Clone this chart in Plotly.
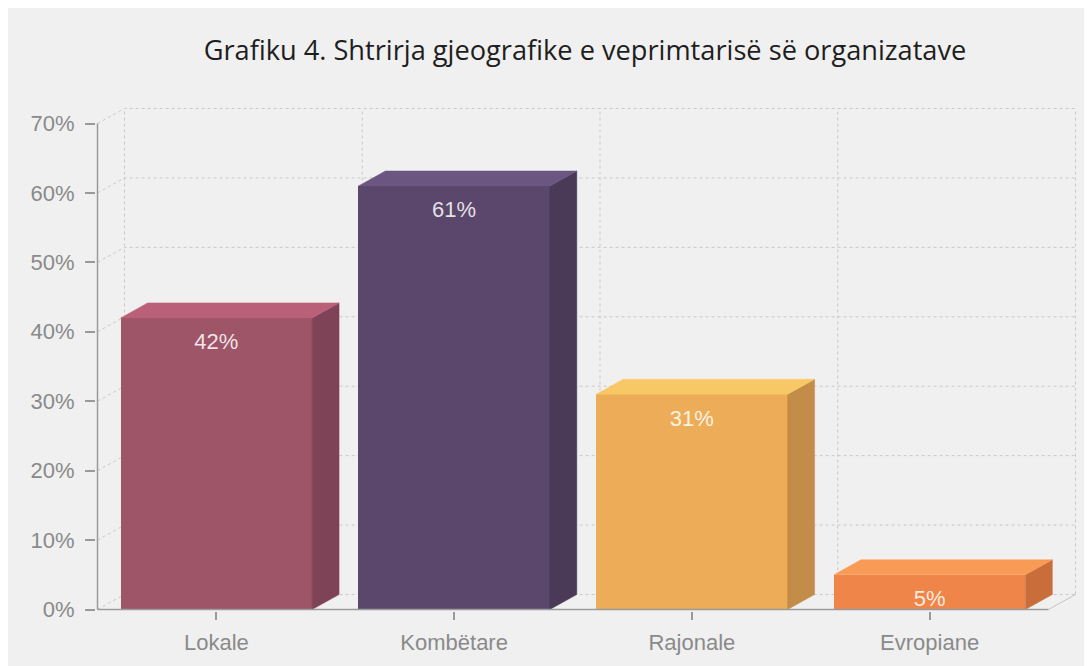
import plotly.graph_objects as go

# ---- data ----
categories = ["Lokale", "Kombëtare", "Rajonale", "Evropiane"]
values = [42, 61, 31, 5]
value_labels = ["42%", "61%", "31%", "5%"]
y_ticks = [0, 10, 20, 30, 40, 50, 60, 70]
y_tick_labels = ["0%", "10%", "20%", "30%", "40%", "50%", "60%", "70%"]
title_text = "Grafiku 4. Shtrirja gjeografike e veprimtarisë së organizatave"

front_colors = ["#9e5568", "#5b476b", "#edad58", "#ef8549"]
side_colors = ["#7e4356", "#4a3a58", "#c38d49", "#c96e3b"]
top_colors = ["#ba6079", "#6b5682", "#f8c866", "#f89b57"]

# ---- geometry (pixel scale) ----
OFF = 8             # page body margin
W, H = 1092 - OFF, 666 - OFF
sx = 238.0          # px per category
sy = 6.943          # px per percent
depth_px_x, depth_px_y = 27.0, 15.0
ddx = depth_px_x / sx
ddy = depth_px_y / sy
ymax = 70
bar_w = 0.805
pad = 1.5

x0, x1 = -0.5 - pad / sx, len(categories) - 0.5 + ddx + pad / sx
y0, y1 = -pad / sy, ymax + ddy + pad / sy
left_px = 97 - OFF - pad
right_px = left_px + (x1 - x0) * sx
bottom_px = 610 - OFF + pad
top_px = bottom_px - (y1 - y0) * sy

fig = go.Figure()

grid_style = dict(color="#c9c9c9", width=1, dash="3px,3px")

# ---- back grid (base subplot, drawn underneath) ----
xl, xr = -0.5, len(categories) - 0.5
for v in y_ticks:
    fig.add_trace(go.Scatter(x=[xl, xl + ddx, xr + ddx], y=[v, v + ddy, v + ddy],
                             mode="lines", line=grid_style, hoverinfo="skip", showlegend=False))
for k in range(len(categories) + 1):
    xv = xl + k + ddx
    fig.add_trace(go.Scatter(x=[xv, xv], y=[ddy, ymax + ddy], mode="lines",
                             line=grid_style, hoverinfo="skip", showlegend=False))
fig.add_trace(go.Scatter(x=[xr, xr + ddx], y=[0, ddy], mode="lines",
                         line=dict(color="#c4c4c4", width=1), hoverinfo="skip", showlegend=False))

# ---- bars (overlay subplot, drawn above grid) ----
xs = list(range(len(categories)))
fig.add_trace(go.Bar(x=xs, y=values, width=bar_w, xaxis="x2", yaxis="y2",
                     marker=dict(color=front_colors, line=dict(width=0)),
                     hoverinfo="skip", showlegend=False))

for i, v in enumerate(values):
    a, b = i - bar_w / 2, i + bar_w / 2
    fig.add_trace(go.Scatter(x=[b, b + ddx, b + ddx, b, b], y=[0, ddy, v + ddy, v, 0],
                             xaxis="x2", yaxis="y2",
                             fill="toself", fillcolor=side_colors[i], mode="lines",
                             line=dict(color=side_colors[i], width=0.5),
                             hoverinfo="skip", showlegend=False))
    fig.add_trace(go.Scatter(x=[a, a + ddx, b + ddx, b, a], y=[v, v + ddy, v + ddy, v, v],
                             xaxis="x2", yaxis="y2",
                             fill="toself", fillcolor=top_colors[i], mode="lines",
                             line=dict(color=top_colors[i], width=0.5),
                             hoverinfo="skip", showlegend=False))

# axis lines
axis_col = "#9a9a9a"
fig.add_trace(go.Scatter(x=[xl, xl], y=[0, ymax], xaxis="x2", yaxis="y2", mode="lines",
                         line=dict(color=axis_col, width=1.5), hoverinfo="skip", showlegend=False))
fig.add_trace(go.Scatter(x=[xl, xr], y=[0, 0], xaxis="x2", yaxis="y2", mode="lines",
                         line=dict(color=axis_col, width=1.5), hoverinfo="skip", showlegend=False))

# value labels
fig.add_trace(go.Scatter(x=xs, y=[v - 26 / sy for v in values], xaxis="x2", yaxis="y2",
                         mode="text", text=value_labels, textposition="middle center", cliponaxis=False,
                         textfont=dict(family="Liberation Sans, Arial", size=22,
                                       color="rgba(255,255,255,0.85)"),
                         hoverinfo="skip", showlegend=False))

tick_font = dict(family="Liberation Sans, Arial", size=22, color="#8a8a8a")
fig.update_layout(
    width=W, height=H,
    paper_bgcolor="#f0f0f0", plot_bgcolor="#f0f0f0",
    margin=dict(l=left_px, r=W - right_px, t=top_px, b=H - bottom_px, autoexpand=False),
    bargap=0,
    title=dict(text=title_text, x=(585 - OFF) / W, xref="container", xanchor="center",
               y=1 - (50 - OFF) / H, yref="container", yanchor="middle",
               font=dict(family="Open Sans", size=27.2, color="#1e1e1e")),
    xaxis=dict(range=[x0, x1], tickvals=xs, ticktext=categories, showgrid=False, zeroline=False,
               showline=False, ticks="outside", ticklen=8, tickcolor=axis_col, tickwidth=1.5,
               ticklabelstandoff=4, tickfont=tick_font, fixedrange=True),
    yaxis=dict(range=[y0, y1], tickvals=y_ticks, ticktext=y_tick_labels, showgrid=False,
               zeroline=False, showline=False, ticks="outside", ticklen=10, tickcolor=axis_col,
               tickwidth=1.5, ticklabelstandoff=6, tickfont=tick_font, fixedrange=True),
    xaxis2=dict(range=[x0, x1], overlaying="x", anchor="y2", visible=False, fixedrange=True),
    yaxis2=dict(range=[y0, y1], overlaying="y", anchor="x2", visible=False, fixedrange=True),
)

fig.write_html("out.html")
